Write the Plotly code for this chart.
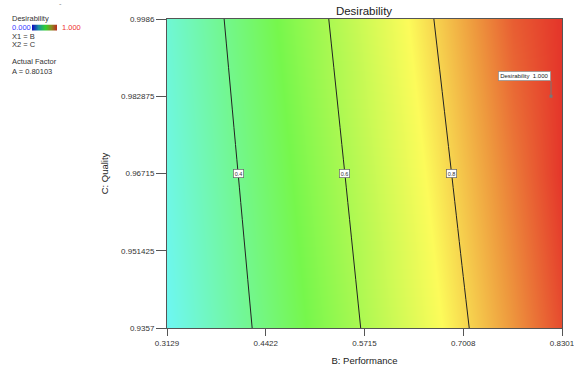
import numpy as np
import plotly.graph_objects as go

# ---- data ----
B_grid = [0.3129, 0.3775, 0.4422, 0.5068, 0.5715, 0.6362, 0.7008, 0.7655, 0.8301]
C_grid = [0.9357, 0.96715, 0.9986]
D_bottom = [0.243, 0.334, 0.425, 0.516, 0.607, 0.698, 0.789, 0.880, 0.972]
D_middle = [0.267, 0.359, 0.452, 0.544, 0.637, 0.729, 0.822, 0.914, 1.000]
D_top = [0.291, 0.385, 0.480, 0.574, 0.668, 0.762, 0.856, 0.950, 1.000]
x_ticks = [0.3129, 0.4422, 0.5715, 0.7008, 0.8301]
y_ticks = [0.9357, 0.951425, 0.96715, 0.982875, 0.9986]
contour_levels = [0.4, 0.6, 0.8]
legend_scale = [0.0, 0.25, 0.5, 0.75, 1.0]
opt_B, opt_C, opt_D = 0.8157, 0.982875, 1.000
actual_A = 0.80103

Z = [D_bottom, D_middle, D_top]

W, H = 574, 372
PL, PR, PT, PB = 167, 562, 19, 328  # plot area in pixels
EPS = 1e-7

cscale = [
    [0.0, "#2030f0"],
    [0.25, "#6ef7ee"],
    [0.5, "#76f74c"],
    [0.75, "#fcfb5a"],
    [0.875, "#ee9a3e"],
    [1.0, "#e4342a"],
]
legend_cscale = [
    [0.0, "#1010c0"],
    [0.25, "#1890a0"],
    [0.5, "#30d030"],
    [0.75, "#8a8a20"],
    [1.0, "#c02020"],
]

fig = go.Figure()
fig.add_trace(go.Heatmap(
    x=B_grid, y=C_grid, z=Z, zmin=0, zmax=1, zsmooth="best",
    colorscale=cscale, hoverinfo="skip", showscale=False,
))
fig.add_trace(go.Contour(
    x=B_grid, y=C_grid, z=Z, showscale=False, hoverinfo="skip",
    contours=dict(coloring="lines", start=contour_levels[0],
                  end=contour_levels[-1], size=0.2),
    line=dict(color="#222", width=1),
    colorscale=[[0, "#222"], [1, "#222"]],
))
# optimum point marker
fig.add_trace(go.Scatter(
    x=[opt_B], y=[opt_C], mode="markers", hoverinfo="skip", showlegend=False,
    marker=dict(symbol="square", size=3, color="#777"),
))
# small legend colour bar
fig.add_trace(go.Heatmap(
    x=legend_scale, y=[0, 1], z=[legend_scale, legend_scale], zmin=0, zmax=1,
    zsmooth="best", colorscale=legend_cscale, showscale=False,
    hoverinfo="skip", xaxis="x2", yaxis="y2",
))

annotations = []
for lev in contour_levels:
    bx = float(np.interp(lev, D_middle, B_grid))
    annotations.append(dict(
        x=bx, y=C_grid[1], xref="x", yref="y", text=f"{lev:.1f}",
        showarrow=False, font=dict(size=5.5, color="#333", family="Liberation Sans"),
        bgcolor="white", bordercolor="#666", borderwidth=0.7, borderpad=1))

annotations.append(dict(
    x=opt_B, y=opt_C, xref="x", yref="y", text=f"Desirability  {opt_D:.3f}",
    showarrow=True, arrowhead=0, arrowwidth=1, arrowcolor="#777",
    ax=0, ay=-15, xanchor="right", yanchor="bottom", standoff=0,
    font=dict(size=6, color="#222", family="Liberation Sans"),
    bgcolor="white", bordercolor="#888", borderwidth=0.7, borderpad=1.5))

fs = 7.5
left_texts = [
    ("Desirability", 19, "#333", 10),
    ("X1 = B", 36, "#333", 10),
    ("X2 = C", 44, "#333", 10),
    ("Actual Factor", 62, "#333", 10),
    (f"A = {actual_A}", 71, "#333", 10),
    ("0.000", 27.5, "#3a3aff", 10),
    ("1.000", 27.5, "#ee3030", 60),
    ("-", 4, "#888", 57),
]
for t, ypx, col, xpx in left_texts:
    annotations.append(dict(
        x=xpx / W, y=1 - ypx / H, xref="paper", yref="paper",
        text=t, showarrow=False, xanchor="left", yanchor="middle",
        font=dict(size=fs, color=col, family="Liberation Sans")))

ax_common = dict(ticks="outside", tickcolor="#555", showline=True,
                 linecolor="#555", linewidth=1, mirror=True, showgrid=False,
                 zeroline=False, automargin=False, ticklabeloverflow="allow",
                 tickfont=dict(size=8, color="#333"))

fig.update_layout(
    width=W, height=H,
    margin=dict(l=0, r=0, t=0, b=0),
    paper_bgcolor="white", plot_bgcolor="white",
    font=dict(family="Liberation Sans", size=8, color="#333"),
    title=dict(text="Desirability", x=364 / W, xanchor="center",
               y=1 - 11 / H, yanchor="middle", yref="container", xref="container",
               font=dict(size=11.5, color="#222", family="Liberation Sans")),
    annotations=annotations,
    xaxis=dict(domain=[PL / W, PR / W],
               range=[x_ticks[0] - EPS, x_ticks[-1] + EPS],
               tickvals=x_ticks, ticktext=[f"{v:g}" for v in x_ticks], ticklen=7,
               title=dict(text="B: Performance", standoff=10,
                          font=dict(size=9.5, color="#222")),
               **ax_common),
    yaxis=dict(domain=[1 - PB / H, 1 - PT / H],
               range=[y_ticks[0] - EPS, y_ticks[-1] + EPS],
               tickvals=y_ticks, ticktext=[f"{v:g}" for v in y_ticks], ticklen=10,
               title=dict(text="C: Quality", standoff=10,
                          font=dict(size=9.5, color="#222")),
               **ax_common),
    xaxis2=dict(domain=[32 / W, 57 / W], range=[legend_scale[0], legend_scale[-1]],
                visible=False, anchor="y2"),
    yaxis2=dict(domain=[1 - 31 / H, 1 - 24.5 / H], range=[0, 1],
                visible=False, anchor="x2"),
)

fig.write_html("out.html")
